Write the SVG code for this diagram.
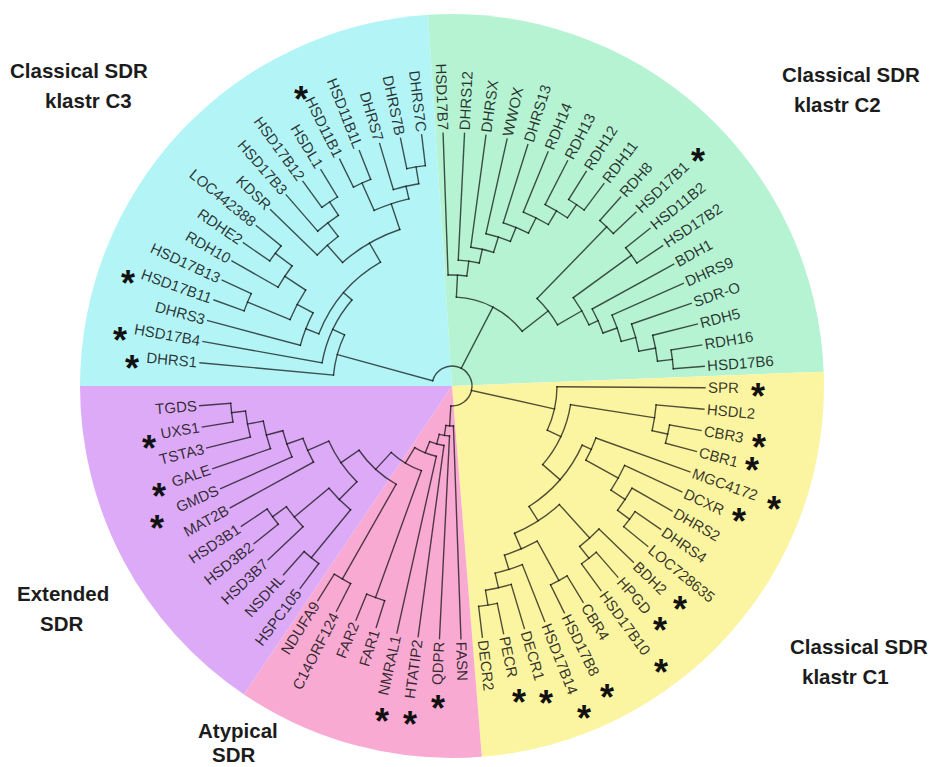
<svg xmlns="http://www.w3.org/2000/svg" width="934" height="767" viewBox="0 0 934 767">
<style>
.br line,.br circle{stroke:#000;stroke-opacity:0.68;stroke-width:1.4;fill:none;stroke-linecap:square}
.lf{font-family:"Liberation Sans",Arial,sans-serif;font-size:15px;fill:#111;fill-opacity:0.85}
.l{text-anchor:end}
.st{font-family:"Liberation Sans",Arial,sans-serif;font-size:36px;font-weight:bold;fill:#111;text-anchor:middle}
.ttl{font-family:"Liberation Sans",Arial,sans-serif;font-size:20.5px;font-weight:bold;fill:#1c1c1c}
</style>
<rect width="934" height="767" fill="#fff"/>
<g id="sectors">
<path d="M452,386 L80,386 A372,372 0 0 1 428,14.8 Z" fill="#b3f5f7"/>
<path d="M452,386 L428,14.8 A372,372 0 0 1 823.7,371.7 Z" fill="#b5f3d3"/>
<path d="M452,386 L823.7,371.7 A372,372 0 0 1 481.8,756.8 Z" fill="#fbf5a1"/>
<path d="M452,386 L481.8,756.8 A372,372 0 0 1 244,694.4 Z" fill="#f9aad3"/>
<path d="M452,386 L244,694.4 A372,372 0 0 1 80,386 Z" fill="#dcaaf6"/>
</g>
<g id="titles">
<g id="t-c3"><text class="ttl" x="10" y="78">Classical SDR</text><text class="ttl" x="45" y="108">klastr C3</text></g>
<g id="t-c2"><text class="ttl" x="782" y="82">Classical SDR</text><text class="ttl" x="794" y="112">klastr C2</text></g>
<g id="t-c1"><text class="ttl" x="790" y="654">Classical SDR</text><text class="ttl" x="802" y="684">klastr C1</text></g>
<g id="t-ext"><text class="ttl" x="17" y="601">Extended</text><text class="ttl" x="40" y="631">SDR</text></g>
<g id="t-aty"><text class="ttl" x="198" y="738">Atypical</text><text class="ttl" x="212" y="762">SDR</text></g>
</g>
<g transform="translate(452,386)">
<g id="connectors" class="br">
<circle r="20" pathLength="360" stroke-dasharray="258.04 360" transform="rotate(195.35)"/>
<line x1="20" x2="119" transform="rotate(195.35)"/>
<line x1="20" x2="89" transform="rotate(297.45)"/>
<line x1="20" x2="105" transform="rotate(12.66)"/>
<line x1="20" x2="40" transform="rotate(93.39)"/>
<circle r="89" pathLength="360" stroke-dasharray="49.23 360" transform="rotate(272.83)"/>
<line x1="89" x2="111" transform="rotate(272.83)"/><line x1="89" x2="122" transform="rotate(322.06)"/>
<circle r="111" pathLength="360" stroke-dasharray="9.69 360" transform="rotate(267.98)"/>
<line x1="111" x2="253" transform="rotate(267.98)"/><line x1="111" x2="126" transform="rotate(277.67)"/>
<circle r="126" pathLength="360" stroke-dasharray="9.66 360" transform="rotate(272.84)"/>
<line x1="126" x2="253" transform="rotate(272.84)"/><line x1="126" x2="140" transform="rotate(282.5)"/>
<circle r="140" pathLength="360" stroke-dasharray="9.58 360" transform="rotate(277.71)"/>
<line x1="140" x2="253" transform="rotate(277.71)"/><line x1="140" x2="156" transform="rotate(287.29)"/>
<circle r="156" pathLength="360" stroke-dasharray="9.43 360" transform="rotate(282.57)"/>
<line x1="156" x2="253" transform="rotate(282.57)"/><line x1="156" x2="171" transform="rotate(292.0)"/>
<circle r="171" pathLength="360" stroke-dasharray="9.12 360" transform="rotate(287.44)"/>
<line x1="171" x2="253" transform="rotate(287.44)"/><line x1="171" x2="188" transform="rotate(296.56)"/>
<circle r="188" pathLength="360" stroke-dasharray="8.52 360" transform="rotate(292.30)"/>
<line x1="188" x2="253" transform="rotate(292.30)"/><line x1="188" x2="204" transform="rotate(300.82)"/>
<circle r="204" pathLength="360" stroke-dasharray="7.3 360" transform="rotate(297.17)"/>
<line x1="204" x2="253" transform="rotate(297.17)"/><line x1="204" x2="220" transform="rotate(304.47)"/>
<circle r="220" pathLength="360" stroke-dasharray="4.87 360" transform="rotate(302.03)"/>
<line x1="220" x2="253" transform="rotate(302.03)"/><line x1="220" x2="253" transform="rotate(306.90)"/>
<circle r="122" pathLength="360" stroke-dasharray="15.73 360" transform="rotate(314.2)"/>
<line x1="122" x2="222" transform="rotate(314.2)"/><line x1="122" x2="150" transform="rotate(329.93)"/>
<circle r="222" pathLength="360" stroke-dasharray="4.87 360" transform="rotate(311.76)"/>
<line x1="222" x2="253" transform="rotate(311.76)"/><line x1="222" x2="253" transform="rotate(316.63)"/>
<circle r="150" pathLength="360" stroke-dasharray="12.01 360" transform="rotate(323.93)"/>
<line x1="150" x2="222" transform="rotate(323.93)"/><line x1="150" x2="160" transform="rotate(335.94)"/>
<circle r="222" pathLength="360" stroke-dasharray="4.87 360" transform="rotate(321.49)"/>
<line x1="222" x2="253" transform="rotate(321.49)"/><line x1="222" x2="253" transform="rotate(326.36)"/>
<circle r="160" pathLength="360" stroke-dasharray="9.43 360" transform="rotate(331.22)"/>
<line x1="160" x2="253" transform="rotate(331.22)"/><line x1="160" x2="175" transform="rotate(340.65)"/>
<circle r="175" pathLength="360" stroke-dasharray="9.12 360" transform="rotate(336.09)"/>
<line x1="175" x2="253" transform="rotate(336.09)"/><line x1="175" x2="190" transform="rotate(345.21)"/>
<circle r="190" pathLength="360" stroke-dasharray="8.52 360" transform="rotate(340.95)"/>
<line x1="190" x2="253" transform="rotate(340.95)"/><line x1="190" x2="207" transform="rotate(349.47)"/>
<circle r="207" pathLength="360" stroke-dasharray="7.3 360" transform="rotate(345.82)"/>
<line x1="207" x2="253" transform="rotate(345.82)"/><line x1="207" x2="222" transform="rotate(353.12)"/>
<circle r="222" pathLength="360" stroke-dasharray="4.87 360" transform="rotate(350.68)"/>
<line x1="222" x2="253" transform="rotate(350.68)"/><line x1="222" x2="253" transform="rotate(355.55)"/>
<circle r="119" pathLength="360" stroke-dasharray="20.15 360" transform="rotate(185.27)"/>
<line x1="119" x2="253" transform="rotate(185.27)"/><line x1="119" x2="132" transform="rotate(205.42)"/>
<circle r="132" pathLength="360" stroke-dasharray="30.56 360" transform="rotate(190.14)"/>
<line x1="132" x2="253" transform="rotate(190.14)"/><line x1="132" x2="143" transform="rotate(220.7)"/>
<circle r="143" pathLength="360" stroke-dasharray="38.61 360" transform="rotate(201.39)"/>
<line x1="143" x2="157" transform="rotate(201.39)"/><line x1="143" x2="165" transform="rotate(240.0)"/>
<circle r="157" pathLength="360" stroke-dasharray="12.78 360" transform="rotate(195.00)"/>
<line x1="157" x2="253" transform="rotate(195.00)"/><line x1="157" x2="175" transform="rotate(207.78)"/>
<circle r="175" pathLength="360" stroke-dasharray="10.95 360" transform="rotate(202.3)"/>
<line x1="175" x2="221" transform="rotate(202.3)"/><line x1="175" x2="200" transform="rotate(213.25)"/>
<circle r="221" pathLength="360" stroke-dasharray="4.86 360" transform="rotate(199.87)"/>
<line x1="221" x2="253" transform="rotate(199.87)"/><line x1="221" x2="253" transform="rotate(204.73)"/>
<circle r="200" pathLength="360" stroke-dasharray="7.3 360" transform="rotate(209.60)"/>
<line x1="200" x2="253" transform="rotate(209.60)"/><line x1="200" x2="221" transform="rotate(216.9)"/>
<circle r="221" pathLength="360" stroke-dasharray="4.87 360" transform="rotate(214.46)"/>
<line x1="221" x2="253" transform="rotate(214.46)"/><line x1="221" x2="253" transform="rotate(219.33)"/>
<circle r="165" pathLength="360" stroke-dasharray="23.11 360" transform="rotate(228.45)"/>
<line x1="165" x2="188" transform="rotate(228.45)"/><line x1="165" x2="192" transform="rotate(251.56)"/>
<circle r="188" pathLength="360" stroke-dasharray="8.52 360" transform="rotate(224.19)"/>
<line x1="188" x2="253" transform="rotate(224.19)"/><line x1="188" x2="205" transform="rotate(232.71)"/>
<circle r="205" pathLength="360" stroke-dasharray="7.3 360" transform="rotate(229.06)"/>
<line x1="205" x2="253" transform="rotate(229.06)"/><line x1="205" x2="221" transform="rotate(236.36)"/>
<circle r="221" pathLength="360" stroke-dasharray="4.87 360" transform="rotate(233.92)"/>
<line x1="221" x2="253" transform="rotate(233.92)"/><line x1="221" x2="253" transform="rotate(238.79)"/>
<circle r="192" pathLength="360" stroke-dasharray="10.94 360" transform="rotate(246.09)"/>
<line x1="192" x2="222" transform="rotate(246.09)"/><line x1="192" x2="205" transform="rotate(257.03)"/>
<circle r="222" pathLength="360" stroke-dasharray="4.87 360" transform="rotate(243.65)"/>
<line x1="222" x2="253" transform="rotate(243.65)"/><line x1="222" x2="253" transform="rotate(248.52)"/>
<circle r="205" pathLength="360" stroke-dasharray="7.3 360" transform="rotate(253.38)"/>
<line x1="205" x2="253" transform="rotate(253.38)"/><line x1="205" x2="222" transform="rotate(260.68)"/>
<circle r="222" pathLength="360" stroke-dasharray="4.86 360" transform="rotate(258.25)"/>
<line x1="222" x2="253" transform="rotate(258.25)"/><line x1="222" x2="253" transform="rotate(263.11)"/>
<circle r="105" pathLength="360" stroke-dasharray="24.52 360" transform="rotate(0.40)"/>
<line x1="105" x2="253" transform="rotate(0.40)"/><line x1="105" x2="120" transform="rotate(24.92)"/>
<circle r="120" pathLength="360" stroke-dasharray="32.0 360" transform="rotate(8.92)"/>
<line x1="120" x2="205" transform="rotate(8.92)"/><line x1="120" x2="143" transform="rotate(40.92)"/>
<circle r="205" pathLength="360" stroke-dasharray="7.3 360" transform="rotate(5.27)"/>
<line x1="205" x2="253" transform="rotate(5.27)"/><line x1="205" x2="221" transform="rotate(12.57)"/>
<circle r="221" pathLength="360" stroke-dasharray="4.87 360" transform="rotate(10.13)"/>
<line x1="221" x2="253" transform="rotate(10.13)"/><line x1="221" x2="253" transform="rotate(15.00)"/>
<circle r="143" pathLength="360" stroke-dasharray="33.0 360" transform="rotate(24.42)"/>
<line x1="143" x2="153" transform="rotate(24.42)"/><line x1="143" x2="160" transform="rotate(57.42)"/>
<circle r="153" pathLength="360" stroke-dasharray="9.13 360" transform="rotate(19.86)"/>
<line x1="153" x2="253" transform="rotate(19.86)"/><line x1="153" x2="190" transform="rotate(28.99)"/>
<circle r="190" pathLength="360" stroke-dasharray="8.51 360" transform="rotate(24.73)"/>
<line x1="190" x2="253" transform="rotate(24.73)"/><line x1="190" x2="207" transform="rotate(33.24)"/>
<circle r="207" pathLength="360" stroke-dasharray="7.3 360" transform="rotate(29.59)"/>
<line x1="207" x2="253" transform="rotate(29.59)"/><line x1="207" x2="222" transform="rotate(36.89)"/>
<circle r="222" pathLength="360" stroke-dasharray="4.86 360" transform="rotate(34.46)"/>
<line x1="222" x2="253" transform="rotate(34.46)"/><line x1="222" x2="253" transform="rotate(39.32)"/>
<circle r="160" pathLength="360" stroke-dasharray="19.16 360" transform="rotate(47.84)"/>
<line x1="160" x2="205" transform="rotate(47.84)"/><line x1="160" x2="177" transform="rotate(67.0)"/>
<circle r="205" pathLength="360" stroke-dasharray="7.3 360" transform="rotate(44.19)"/>
<line x1="205" x2="253" transform="rotate(44.19)"/><line x1="205" x2="220" transform="rotate(51.49)"/>
<circle r="220" pathLength="360" stroke-dasharray="4.87 360" transform="rotate(49.05)"/>
<line x1="220" x2="253" transform="rotate(49.05)"/><line x1="220" x2="253" transform="rotate(53.92)"/>
<circle r="177" pathLength="360" stroke-dasharray="11.55 360" transform="rotate(61.22)"/>
<line x1="177" x2="222" transform="rotate(61.22)"/><line x1="177" x2="192" transform="rotate(72.77)"/>
<circle r="222" pathLength="360" stroke-dasharray="4.87 360" transform="rotate(58.78)"/>
<line x1="222" x2="253" transform="rotate(58.78)"/><line x1="222" x2="253" transform="rotate(63.65)"/>
<circle r="192" pathLength="360" stroke-dasharray="8.52 360" transform="rotate(68.51)"/>
<line x1="192" x2="253" transform="rotate(68.51)"/><line x1="192" x2="207" transform="rotate(77.03)"/>
<circle r="207" pathLength="360" stroke-dasharray="7.3 360" transform="rotate(73.38)"/>
<line x1="207" x2="253" transform="rotate(73.38)"/><line x1="207" x2="222" transform="rotate(80.68)"/>
<circle r="222" pathLength="360" stroke-dasharray="4.87 360" transform="rotate(78.24)"/>
<line x1="222" x2="253" transform="rotate(78.24)"/><line x1="222" x2="253" transform="rotate(83.11)"/>
<circle r="40" pathLength="360" stroke-dasharray="10.84 360" transform="rotate(87.97)"/>
<line x1="40" x2="253" transform="rotate(87.97)"/><line x1="40" x2="50" transform="rotate(98.81)"/>
<circle r="50" pathLength="360" stroke-dasharray="11.95 360" transform="rotate(92.84)"/>
<line x1="50" x2="253" transform="rotate(92.84)"/><line x1="50" x2="60" transform="rotate(104.79)"/>
<circle r="60" pathLength="360" stroke-dasharray="14.17 360" transform="rotate(97.70)"/>
<line x1="60" x2="253" transform="rotate(97.70)"/><line x1="60" x2="72" transform="rotate(111.87)"/>
<circle r="72" pathLength="360" stroke-dasharray="18.61 360" transform="rotate(102.57)"/>
<line x1="72" x2="253" transform="rotate(102.57)"/><line x1="72" x2="90" transform="rotate(121.18)"/>
<circle r="90" pathLength="360" stroke-dasharray="22.61 360" transform="rotate(109.87)"/>
<line x1="90" x2="225" transform="rotate(109.87)"/><line x1="90" x2="113" transform="rotate(132.48)"/>
<circle r="225" pathLength="360" stroke-dasharray="4.87 360" transform="rotate(107.43)"/>
<line x1="225" x2="253" transform="rotate(107.43)"/><line x1="225" x2="253" transform="rotate(112.30)"/>
<circle r="113" pathLength="360" stroke-dasharray="25.77 360" transform="rotate(119.6)"/>
<line x1="113" x2="222" transform="rotate(119.6)"/><line x1="113" x2="135" transform="rotate(145.37)"/>
<circle r="222" pathLength="360" stroke-dasharray="4.87 360" transform="rotate(117.16)"/>
<line x1="222" x2="253" transform="rotate(117.16)"/><line x1="222" x2="253" transform="rotate(122.03)"/>
<circle r="135" pathLength="360" stroke-dasharray="21.13 360" transform="rotate(134.8)"/>
<line x1="135" x2="160" transform="rotate(134.8)"/><line x1="135" x2="158" transform="rotate(155.93)"/>
<circle r="160" pathLength="360" stroke-dasharray="10.94 360" transform="rotate(129.33)"/>
<line x1="160" x2="222" transform="rotate(129.33)"/><line x1="160" x2="205" transform="rotate(140.27)"/>
<circle r="222" pathLength="360" stroke-dasharray="4.87 360" transform="rotate(126.89)"/>
<line x1="222" x2="253" transform="rotate(126.89)"/><line x1="222" x2="253" transform="rotate(131.76)"/>
<circle r="205" pathLength="360" stroke-dasharray="7.3 360" transform="rotate(136.62)"/>
<line x1="205" x2="253" transform="rotate(136.62)"/><line x1="205" x2="222" transform="rotate(143.92)"/>
<circle r="222" pathLength="360" stroke-dasharray="4.86 360" transform="rotate(141.49)"/>
<line x1="222" x2="253" transform="rotate(141.49)"/><line x1="222" x2="253" transform="rotate(146.35)"/>
<circle r="158" pathLength="360" stroke-dasharray="9.42 360" transform="rotate(151.22)"/>
<line x1="158" x2="253" transform="rotate(151.22)"/><line x1="158" x2="175" transform="rotate(160.64)"/>
<circle r="175" pathLength="360" stroke-dasharray="9.12 360" transform="rotate(156.08)"/>
<line x1="175" x2="253" transform="rotate(156.08)"/><line x1="175" x2="192" transform="rotate(165.2)"/>
<circle r="192" pathLength="360" stroke-dasharray="8.51 360" transform="rotate(160.95)"/>
<line x1="192" x2="253" transform="rotate(160.95)"/><line x1="192" x2="208" transform="rotate(169.46)"/>
<circle r="208" pathLength="360" stroke-dasharray="7.3 360" transform="rotate(165.81)"/>
<line x1="208" x2="253" transform="rotate(165.81)"/><line x1="208" x2="222" transform="rotate(173.11)"/>
<circle r="222" pathLength="360" stroke-dasharray="4.86 360" transform="rotate(170.68)"/>
<line x1="222" x2="253" transform="rotate(170.68)"/><line x1="222" x2="253" transform="rotate(175.54)"/>
</g>
<g id="leaves">
<g id="n-SPR"><text class="lf" transform="rotate(0.40) translate(256 0)" dy="5">SPR</text><text class="st" x="306" y="23">*</text></g>
<g id="n-HSDL2"><text class="lf" transform="rotate(5.27) translate(256 0)" dy="5">HSDL2</text></g>
<g id="n-CBR3"><text class="lf" transform="rotate(10.13) translate(256 0)" dy="5">CBR3</text><text class="st" x="307" y="74">*</text></g>
<g id="n-CBR1"><text class="lf" transform="rotate(15.00) translate(256 0)" dy="5">CBR1</text><text class="st" x="300" y="97">*</text></g>
<g id="n-MGC4172"><text class="lf" transform="rotate(19.86) translate(256 0)" dy="5">MGC4172</text><text class="st" x="322" y="136">*</text></g>
<g id="n-DCXR"><text class="lf" transform="rotate(24.73) translate(256 0)" dy="5">DCXR</text><text class="st" x="287" y="148">*</text></g>
<g id="n-DHRS2"><text class="lf" transform="rotate(29.59) translate(256 0)" dy="5">DHRS2</text></g>
<g id="n-DHRS4"><text class="lf" transform="rotate(34.46) translate(256 0)" dy="5">DHRS4</text></g>
<g id="n-LOC728635"><text class="lf" transform="rotate(39.32) translate(256 0)" dy="5">LOC728635</text></g>
<g id="n-BDH2"><text class="lf" transform="rotate(44.19) translate(256 0)" dy="5">BDH2</text><text class="st" x="228" y="236">*</text></g>
<g id="n-HPGD"><text class="lf" transform="rotate(49.05) translate(256 0)" dy="5">HPGD</text><text class="st" x="208" y="257">*</text></g>
<g id="n-HSD17B10"><text class="lf" transform="rotate(53.92) translate(256 0)" dy="5">HSD17B10</text><text class="st" x="209" y="299">*</text></g>
<g id="n-CBR4"><text class="lf" transform="rotate(58.78) translate(256 0)" dy="5">CBR4</text></g>
<g id="n-HSD17B8"><text class="lf" transform="rotate(63.65) translate(256 0)" dy="5">HSD17B8</text><text class="st" x="155" y="324">*</text></g>
<g id="n-HSD17B14"><text class="lf" transform="rotate(68.51) translate(256 0)" dy="5">HSD17B14</text><text class="st" x="132" y="345">*</text></g>
<g id="n-DECR1"><text class="lf" transform="rotate(73.38) translate(256 0)" dy="5">DECR1</text><text class="st" x="94" y="330">*</text></g>
<g id="n-PECR"><text class="lf" transform="rotate(78.24) translate(256 0)" dy="5">PECR</text><text class="st" x="67" y="329">*</text></g>
<g id="n-DECR2"><text class="lf" transform="rotate(83.11) translate(256 0)" dy="5">DECR2</text></g>
<g id="n-FASN"><text class="lf" transform="rotate(87.97) translate(256 0)" dy="5">FASN</text></g>
<g id="n-QDPR"><text class="lf l" transform="rotate(92.84) translate(256 0) rotate(180)" dy="5">QDPR</text><text class="st" x="-14" y="335">*</text></g>
<g id="n-HTATIP2"><text class="lf l" transform="rotate(97.70) translate(256 0) rotate(180)" dy="5">HTATIP2</text><text class="st" x="-42" y="351">*</text></g>
<g id="n-NMRAL1"><text class="lf l" transform="rotate(102.57) translate(256 0) rotate(180)" dy="5">NMRAL1</text><text class="st" x="-70" y="348">*</text></g>
<g id="n-FAR1"><text class="lf l" transform="rotate(107.43) translate(256 0) rotate(180)" dy="5">FAR1</text></g>
<g id="n-FAR2"><text class="lf l" transform="rotate(112.30) translate(256 0) rotate(180)" dy="5">FAR2</text></g>
<g id="n-C14ORF124"><text class="lf l" transform="rotate(117.16) translate(256 0) rotate(180)" dy="5">C14ORF124</text></g>
<g id="n-NDUFA9"><text class="lf l" transform="rotate(122.03) translate(256 0) rotate(180)" dy="5">NDUFA9</text></g>
<g id="n-HSPC105"><text class="lf l" transform="rotate(126.89) translate(256 0) rotate(180)" dy="5">HSPC105</text></g>
<g id="n-NSDHL"><text class="lf l" transform="rotate(131.76) translate(256 0) rotate(180)" dy="5">NSDHL</text></g>
<g id="n-HSD3B7"><text class="lf l" transform="rotate(136.62) translate(256 0) rotate(180)" dy="5">HSD3B7</text></g>
<g id="n-HSD3B2"><text class="lf l" transform="rotate(141.49) translate(256 0) rotate(180)" dy="5">HSD3B2</text></g>
<g id="n-HSD3B1"><text class="lf l" transform="rotate(146.35) translate(256 0) rotate(180)" dy="5">HSD3B1</text></g>
<g id="n-MAT2B"><text class="lf l" transform="rotate(151.22) translate(256 0) rotate(180)" dy="5">MAT2B</text></g>
<g id="n-GMDS"><text class="lf l" transform="rotate(156.08) translate(256 0) rotate(180)" dy="5">GMDS</text><text class="st" x="-295" y="155">*</text></g>
<g id="n-GALE"><text class="lf l" transform="rotate(160.95) translate(256 0) rotate(180)" dy="5">GALE</text><text class="st" x="-293" y="123">*</text></g>
<g id="n-TSTA3"><text class="lf l" transform="rotate(165.81) translate(256 0) rotate(180)" dy="5">TSTA3</text></g>
<g id="n-UXS1"><text class="lf l" transform="rotate(170.68) translate(256 0) rotate(180)" dy="5">UXS1</text><text class="st" x="-303" y="75">*</text></g>
<g id="n-TGDS"><text class="lf l" transform="rotate(175.54) translate(256 0) rotate(180)" dy="5">TGDS</text></g>
<g id="n-DHRS1"><text class="lf l" transform="rotate(185.27) translate(256 0) rotate(180)" dy="5">DHRS1</text><text class="st" x="-320" y="-5">*</text></g>
<g id="n-HSD17B4"><text class="lf l" transform="rotate(190.14) translate(256 0) rotate(180)" dy="5">HSD17B4</text><text class="st" x="-332" y="-33">*</text></g>
<g id="n-DHRS3"><text class="lf l" transform="rotate(195.00) translate(256 0) rotate(180)" dy="5">DHRS3</text></g>
<g id="n-HSD17B11"><text class="lf l" transform="rotate(199.87) translate(256 0) rotate(180)" dy="5">HSD17B11</text></g>
<g id="n-HSD17B13"><text class="lf l" transform="rotate(204.73) translate(256 0) rotate(180)" dy="5">HSD17B13</text><text class="st" x="-324" y="-90">*</text></g>
<g id="n-RDH10"><text class="lf l" transform="rotate(209.60) translate(256 0) rotate(180)" dy="5">RDH10</text></g>
<g id="n-RDHE2"><text class="lf l" transform="rotate(214.46) translate(256 0) rotate(180)" dy="5">RDHE2</text></g>
<g id="n-LOC442388"><text class="lf l" transform="rotate(219.33) translate(256 0) rotate(180)" dy="5">LOC442388</text></g>
<g id="n-KDSR"><text class="lf l" transform="rotate(224.19) translate(256 0) rotate(180)" dy="5">KDSR</text></g>
<g id="n-HSD17B3"><text class="lf l" transform="rotate(229.06) translate(256 0) rotate(180)" dy="5">HSD17B3</text></g>
<g id="n-HSD17B12"><text class="lf l" transform="rotate(233.92) translate(256 0) rotate(180)" dy="5">HSD17B12</text></g>
<g id="n-HSDL1"><text class="lf l" transform="rotate(238.79) translate(256 0) rotate(180)" dy="5">HSDL1</text></g>
<g id="n-HSD11B1"><text class="lf l" transform="rotate(243.65) translate(256 0) rotate(180)" dy="5">HSD11B1</text><text class="st" x="-151" y="-274">*</text></g>
<g id="n-HSD11B1L"><text class="lf l" transform="rotate(248.52) translate(256 0) rotate(180)" dy="5">HSD11B1L</text></g>
<g id="n-DHRS7"><text class="lf l" transform="rotate(253.38) translate(256 0) rotate(180)" dy="5">DHRS7</text></g>
<g id="n-DHRS7B"><text class="lf l" transform="rotate(258.25) translate(256 0) rotate(180)" dy="5">DHRS7B</text></g>
<g id="n-DHRS7C"><text class="lf l" transform="rotate(263.11) translate(256 0) rotate(180)" dy="5">DHRS7C</text></g>
<g id="n-HSD17B7"><text class="lf l" transform="rotate(267.98) translate(256 0) rotate(180)" dy="5">HSD17B7</text></g>
<g id="n-DHRS12"><text class="lf" transform="rotate(272.84) translate(256 0)" dy="5">DHRS12</text></g>
<g id="n-DHRSX"><text class="lf" transform="rotate(277.71) translate(256 0)" dy="5">DHRSX</text></g>
<g id="n-WWOX"><text class="lf" transform="rotate(282.57) translate(256 0)" dy="5">WWOX</text></g>
<g id="n-DHRS13"><text class="lf" transform="rotate(287.44) translate(256 0)" dy="5">DHRS13</text></g>
<g id="n-RDH14"><text class="lf" transform="rotate(292.30) translate(256 0)" dy="5">RDH14</text></g>
<g id="n-RDH13"><text class="lf" transform="rotate(297.17) translate(256 0)" dy="5">RDH13</text></g>
<g id="n-RDH12"><text class="lf" transform="rotate(302.03) translate(256 0)" dy="5">RDH12</text></g>
<g id="n-RDH11"><text class="lf" transform="rotate(306.90) translate(256 0)" dy="5">RDH11</text></g>
<g id="n-RDH8"><text class="lf" transform="rotate(311.76) translate(256 0)" dy="5">RDH8</text></g>
<g id="n-HSD17B1"><text class="lf" transform="rotate(316.63) translate(256 0)" dy="5">HSD17B1</text><text class="st" x="246" y="-212">*</text></g>
<g id="n-HSD11B2"><text class="lf" transform="rotate(321.49) translate(256 0)" dy="5">HSD11B2</text></g>
<g id="n-HSD17B2"><text class="lf" transform="rotate(326.36) translate(256 0)" dy="5">HSD17B2</text></g>
<g id="n-BDH1"><text class="lf" transform="rotate(331.22) translate(256 0)" dy="5">BDH1</text></g>
<g id="n-DHRS9"><text class="lf" transform="rotate(336.09) translate(256 0)" dy="5">DHRS9</text></g>
<g id="n-SDR-O"><text class="lf" transform="rotate(340.95) translate(256 0)" dy="5">SDR-O</text></g>
<g id="n-RDH5"><text class="lf" transform="rotate(345.82) translate(256 0)" dy="5">RDH5</text></g>
<g id="n-RDH16"><text class="lf" transform="rotate(350.68) translate(256 0)" dy="5">RDH16</text></g>
<g id="n-HSD17B6"><text class="lf" transform="rotate(355.55) translate(256 0)" dy="5">HSD17B6</text></g>
</g>
</g>
</svg>
